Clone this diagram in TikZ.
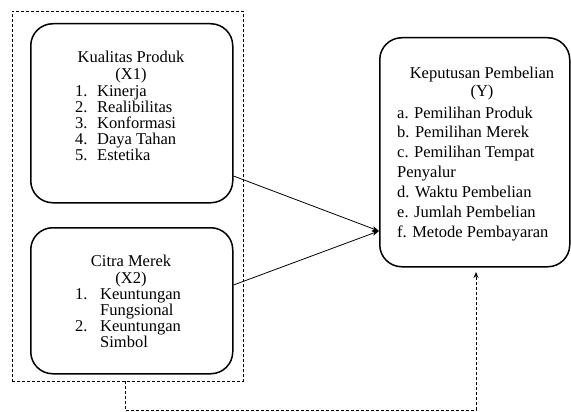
\documentclass[tikz,border=0pt]{standalone}
\usepackage{fontspec}
\setmainfont{Liberation Serif}
\usetikzlibrary{arrows.meta}
\begin{document}
\begin{tikzpicture}[x=1pt,y=-1pt,
  box/.style={draw, line width=1.5pt, rounded corners=22pt},
  txt/.style={font=\fontsize{16.5}{16.5}\selectfont, inner sep=0pt},
  conn/.style={draw, line width=0.8pt, -{Stealth[length=7pt,width=5pt]}},
  dashline/.style={draw, line width=0.9pt, dash pattern=on 3pt off 2pt}]
\useasboundingbox (0,0) rectangle (571,412);
% outer dashed frame
\node[dashline, minimum width=231pt, minimum height=370pt, inner sep=0pt, anchor=north west] (frame) at (12,11) {};
% boxes
\node[box, minimum width=202pt, minimum height=179pt, inner sep=0pt, anchor=north west] (b1) at (30,23) {};
\node[box, minimum width=202pt, minimum height=146pt, inner sep=0pt, anchor=north west] (b2) at (30,227) {};
\node[box, minimum width=190pt, minimum height=229pt, inner sep=0pt, anchor=north west] (by) at (379,37) {};
% box 1 text
\node[txt, anchor=base] (h1a) at (131,63) {Kualitas Produk};
\node[txt, anchor=base] (h1b) at (131,80) {(X1)};
\foreach \n/\t [count=\i] in {1./Kinerja, 2./Realibilitas, 3./Konformasi, 4./Daya Tahan, 5./Estetika}{
  \node[txt, anchor=base west] (n1\i) at (75,{96.5+16*(\i-1)}) {\n};
  \node[txt, anchor=base west] (t1\i) at (97,{96.5+16*(\i-1)}) {\t};
}
% box 2 text
\node[txt, anchor=base] (h2a) at (131,266) {Citra Merek};
\node[txt, anchor=base] (h2b) at (131,283) {(X2)};
\node[txt, anchor=base west] (n21) at (75,299) {1.};
\node[txt, anchor=base west] (t21) at (100,299) {Keuntungan};
\node[txt, anchor=base west] (t22) at (100,315.5) {Fungsional};
\node[txt, anchor=base west] (n22) at (75,331) {2.};
\node[txt, anchor=base west] (t23) at (100,331) {Keuntungan};
\node[txt, anchor=base west] (t24) at (100,347.5) {Simbol};
% box Y text
\node[txt, anchor=base] (hya) at (482,79) {Keputusan Pembelian};
\node[txt, anchor=base] (hyb) at (482,97) {(Y)};
\foreach \t [count=\i] in {a. Pemilihan Produk, b. Pemilihan Merek, c. Pemilihan Tempat, Penyalur, d. Waktu Pembelian, e. Jumlah Pembelian, f. Metode Pembayaran}{
  \node[txt, anchor=base west] (ty\i) at (397,{118+19.9*(\i-1)}) {\t};
}
% connectors
\coordinate (tip) at (by.west |- 0,231);
\coordinate (s1) at (b1.east |- 0,176);
\coordinate (s2) at (b2.east |- 0,285);
\draw[conn] (s1) -- (tip);
\draw[conn] (s2) -- (tip);
\coordinate (f1) at (125,381);
\coordinate (f2) at (125,410);
\coordinate (f3) at (476,410);
\coordinate (f4) at (476,272);
\draw[dashline, -{Stealth[length=6pt,width=5pt]}] (f1) -- (f2) -- (f3) -- (f4);
\end{tikzpicture}
\end{document}
